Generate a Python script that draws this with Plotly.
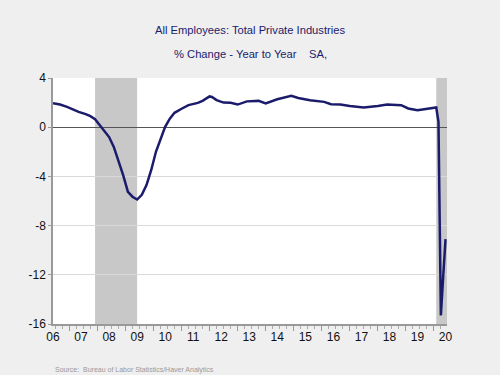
import plotly.graph_objects as go

dates = ["2006-06-01","2006-09-01","2006-12-01","2007-03-01","2007-05-01","2007-08-01","2007-10-01","2007-12-01",
         "2008-02-01","2008-04-01","2008-06-01","2008-08-01","2008-10-01","2008-12-01",
         "2009-02-01","2009-04-01","2009-06-01","2009-08-01","2009-10-01","2009-12-01",
         "2010-02-01","2010-04-01","2010-06-01","2010-08-01","2010-10-01",
         "2011-01-01","2011-04-01","2011-08-01","2011-10-01",
         "2012-01-01","2012-02-01","2012-04-01","2012-07-01","2012-10-01",
         "2013-01-01","2013-05-01","2013-10-01","2014-01-01","2014-06-01","2014-12-01",
         "2015-03-01","2015-08-01","2016-02-01","2016-05-01","2016-09-01",
         "2017-01-01","2017-07-01","2018-01-01","2018-05-01","2018-11-01",
         "2019-02-01","2019-06-01","2019-10-01","2020-02-01","2020-03-01","2020-04-01","2020-05-01","2020-06-01"]
values = [1.95,1.84,1.65,1.4,1.25,1.06,0.9,0.65,
          0.15,-0.38,-0.8,-1.6,-2.7,-3.9,
          -5.25,-5.65,-5.88,-5.5,-4.7,-3.5,
          -2.0,-0.92,0.03,0.7,1.17,
          1.5,1.8,1.98,2.14,
          2.5,2.46,2.2,2.0,1.98,
          1.84,2.1,2.14,1.93,2.27,2.55,
          2.38,2.2,2.06,1.87,1.84,
          1.73,1.6,1.73,1.84,1.79,
          1.52,1.38,1.46,1.6,0.43,-15.3,-12.2,-9.1]

recessions = [("2007-12-01", "2009-06-01"), ("2020-02-01", "2020-06-20")]
years = list(range(2006, 2021))
year_labels = [f"{y % 100:02d}" for y in years]
y_ticks = [4, 0, -4, -8, -12, -16]

x_range = ["2006-06-01", "2020-06-20"]
navy = "#1b1b6b"

fig = go.Figure()
for s, e in recessions:
    fig.add_vrect(x0=s, x1=e, fillcolor="#c8c8c8", opacity=1, line_width=0, layer="below")

fig.add_trace(go.Scatter(x=dates, y=values, mode="lines",
                         line=dict(color=navy, width=2.5), showlegend=False))
# invisible trace to anchor label axis
fig.add_trace(go.Scatter(x=[dates[0]], y=[values[0]], xaxis="x2", mode="markers",
                         marker=dict(opacity=0), showlegend=False, hoverinfo="skip"))

fig.update_layout(
    width=500, height=375,
    paper_bgcolor="#efefef", plot_bgcolor="white",
    margin=dict(l=53, r=53, t=78, b=51),
    font=dict(family="Liberation Sans, Arial, sans-serif", size=12, color="#111111"),
    xaxis=dict(range=x_range, type="date", automargin=False,
               tickvals=[f"{y}-01-01" for y in years], ticktext=[""] * len(years),
               ticks="outside", ticklen=5, tickcolor="#999999",
               minor=dict(dtick="M3", tick0="2006-01-01", ticks="outside", ticklen=3, tickcolor="#aaaaaa", showgrid=False),
               showgrid=False, showline=True, linecolor="#999999", linewidth=1.5, zeroline=False),
    xaxis2=dict(range=x_range, type="date", overlaying="x", side="bottom", automargin=False,
                tickvals=[f"{y}-06-01" for y in years], ticktext=year_labels,
                ticks="", showgrid=False, showline=False, zeroline=False, ticklabelstandoff=4,
                tickfont=dict(size=12, color="#111111")),
    yaxis=dict(range=[-16, 4], tickvals=y_ticks, ticktext=[str(v) for v in y_ticks], automargin=False,
               showgrid=True, gridcolor="#d9d9d9", gridwidth=1,
               zeroline=True, zerolinecolor="#555555", zerolinewidth=1,
               showline=True, linecolor="#999999", linewidth=1.5,
               ticks="outside", ticklen=3, tickcolor="#999999",
               tickfont=dict(size=12, color="#111111")),
    annotations=[
        dict(text="All Employees: Total Private Industries", xref="paper", yref="paper",
             x=0.5, y=(324 - 30) / 246, yanchor="middle", showarrow=False, font=dict(size=11.2, color=navy)),
        dict(text="% Change - Year to Year&nbsp;&nbsp;&nbsp;&nbsp;SA,", xref="paper", yref="paper",
             x=0.5, y=(324 - 54) / 246, yanchor="middle", showarrow=False, font=dict(size=11.2, color=navy)),
        dict(text="Source:  Bureau of Labor Statistics/Haver Analytics", xref="paper", yref="paper",
             x=0, y=(324 - 370) / 246, xanchor="left", yanchor="middle",
             showarrow=False, font=dict(size=7, color="#999999")),
    ],
)
fig.write_html("out.html", config={"displayModeBar": False},
               post_script="document.body.style.margin='0';document.body.style.background='#efefef';")
